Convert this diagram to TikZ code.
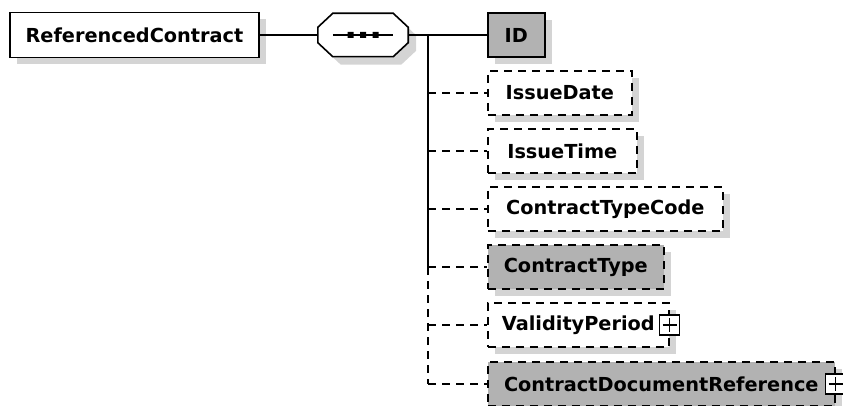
\documentclass[tikz,border=0pt]{standalone}
\usepackage{fontspec}
\setmainfont{DejaVu Sans}
\usepackage{tikz}
\usetikzlibrary{calc,shadows}
\definecolor{Element}{RGB}{178, 178, 178}
\definecolor{Shade}{RGB}{212, 212, 212}

\begin{document}
\begin{tikzpicture}[x=1pt, y=-1pt,
    box/.style={draw, fill=white, line width=1.6pt, minimum height=44pt, inner sep=0pt,
        font=\bfseries\fontsize{19.3}{20}\selectfont,
        general shadow={fill=Shade, shadow xshift=7pt, shadow yshift=-7pt}},
    optional/.style={dash pattern=on 8pt off 6pt},
    typed/.style={fill=Element},
    conn/.style={line width=1.6pt},
    expand/.style={draw, fill=white, line width=1.4pt, minimum size=20pt, inner sep=0pt,
        path picture={\draw[line width=1.4pt]
            ([yshift=-3pt]path picture bounding box.north) -- ([yshift=3pt]path picture bounding box.south)
            ([xshift=3pt]path picture bounding box.west) -- ([xshift=-3pt]path picture bounding box.east);}}
    ]
    %%Background
    \useasboundingbox (0,0) rectangle (843,406);

    %% Root and sequence
    \node[box, minimum width=249pt, minimum height=45pt] (rc) at (134.5,35) {ReferencedContract};
    \node[minimum width=90pt, minimum height=43pt, inner sep=0pt] (seq) at (363,35) {};
    \draw[fill=white, line width=1.6pt, general shadow={fill=Shade, shadow xshift=8pt, shadow yshift=-8pt}]
    ($(seq.north west)+(15,0)$) to ($(seq.north east)+(-15,0)$) to ($(seq.north east)+(0,14)$)
    to ($(seq.south east)+(0,-14)$) to ($(seq.south east)+(-15,0)$) to ($(seq.south west)+(15,0)$)
    to ($(seq.south west)+(0,-14)$) to ($(seq.north west)+(0,14)$) -- cycle;
    \draw[conn] ([xshift=15pt]seq.west) to ([xshift=-15pt]seq.east);
    \fill
    ($(seq.center)+(-15.5,-3)$) rectangle ++(6,6)
    ($(seq.center)+(-3,-3)$) rectangle ++(6,6)
    ($(seq.center)+(9.5,-3)$) rectangle ++(6,6)
    ;

    %% Children
    \node[box, typed, anchor=west, minimum width=57pt] (id) at (487,35) {ID};
    \node[box, optional, anchor=west, minimum width=144pt] (issuedate) at (487,93) {IssueDate};
    \node[box, optional, anchor=west, minimum width=149pt] (issuetime) at (487,151) {IssueTime};
    \node[box, optional, anchor=west, minimum width=235pt] (typecode) at (487,209) {ContractTypeCode};
    \node[box, optional, typed, anchor=west, minimum width=176pt] (ctype) at (487,267) {ContractType};
    \node[box, optional, anchor=west, minimum width=181pt] (validity) at (487,325) {ValidityPeriod};
    \node[box, optional, typed, anchor=west, minimum width=347pt] (docref) at (487,384) {ContractDocumentReference};

    \node[expand] (validityplus) at (validity.east) {};
    \node[expand] (docrefplus) at (docref.east) {};

    %% Connectors
    \coordinate (trunk) at (428,35);
    \coordinate (split) at (428,267);
    \coordinate (trunkend) at (428,384);

    \draw[conn] (rc.east) to (seq.west);
    \draw[conn] (seq.east) to (trunk) to (id.west);
    \draw[conn] (trunk) to (split);
    \draw[conn, optional]
    (split) to (trunkend)
    (trunk |- issuedate.west) to (issuedate.west)
    (trunk |- issuetime.west) to (issuetime.west)
    (trunk |- typecode.west) to (typecode.west)
    (trunk |- ctype.west) to (ctype.west)
    (trunk |- validity.west) to (validity.west)
    (trunk |- docref.west) to (docref.west)
    ;

\end{tikzpicture}
\end{document}
